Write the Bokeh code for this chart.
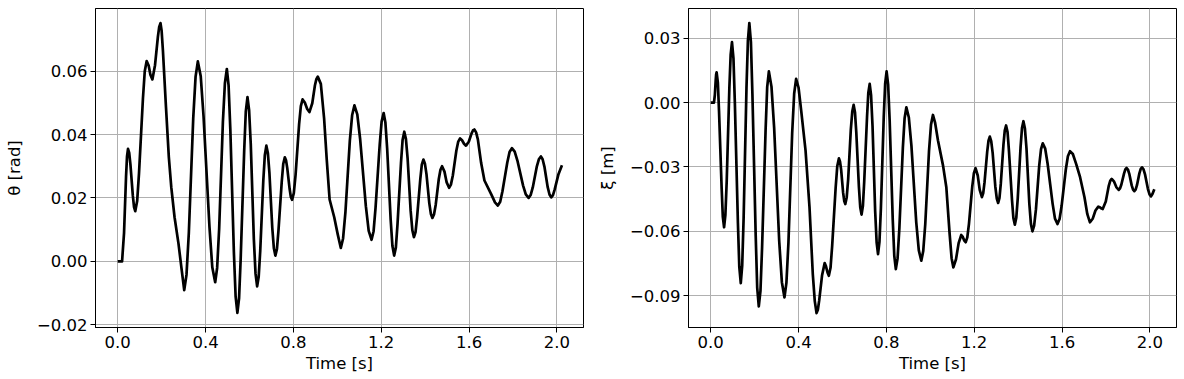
from bokeh.plotting import figure
from bokeh.layouts import row
from bokeh.models import FixedTicker, CustomJSTickFormatter, Range1d
from bokeh.embed import file_html
from bokeh.resources import INLINE

# ---- data (time [s], value) ----
theta_t = [0.0, 0.02, 0.029, 0.038, 0.047, 0.058, 0.069, 0.080, 0.097, 0.115,
           0.132, 0.141, 0.149, 0.158, 0.170, 0.183, 0.195, 0.206, 0.220, 0.233,
           0.244, 0.259, 0.277, 0.290, 0.303, 0.324, 0.344, 0.365, 0.391, 0.418,
           0.444, 0.462, 0.479, 0.497, 0.513, 0.529, 0.545, 0.560, 0.576, 0.591,
           0.606, 0.620, 0.635, 0.649, 0.663, 0.677, 0.691, 0.704, 0.718, 0.732,
           0.747, 0.761, 0.772, 0.783, 0.794, 0.810, 0.826, 0.842, 0.852, 0.863,
           0.873, 0.886, 0.898, 0.911, 0.925, 0.940, 0.952, 0.965, 0.986, 1.002,
           1.016, 1.037, 1.057, 1.078, 1.104, 1.130, 1.156, 1.174, 1.193, 1.211,
           1.227, 1.243, 1.259, 1.274, 1.290, 1.305, 1.320, 1.334, 1.349, 1.363,
           1.378, 1.392, 1.406, 1.419, 1.433, 1.448, 1.462, 1.477, 1.488, 1.498,
           1.509, 1.526, 1.542, 1.559, 1.568, 1.577, 1.586, 1.599, 1.611, 1.624,
           1.640, 1.655, 1.670, 1.700, 1.731, 1.752, 1.774, 1.795, 1.820, 1.846,
           1.871, 1.890, 1.908, 1.927, 1.943, 1.958, 1.974, 1.990, 2.007, 2.023]
theta_v = [0.0, 0.0, 0.009, 0.0266, 0.0355, 0.0306, 0.0207, 0.0158, 0.0277, 0.0514,
           0.0632, 0.0618, 0.0589, 0.0574, 0.0619, 0.0708, 0.0752, 0.0665, 0.0486, 0.0328,
           0.0234, 0.0139, 0.0055, -0.0019, -0.0091, 0.0090, 0.0451, 0.0631, 0.0457, 0.0108,
           -0.0066, 0.0102, 0.0439, 0.0607, 0.0415, 0.0030, -0.0163, 0.0007, 0.0348, 0.0518,
           0.0369, 0.0070, -0.0079, 0.0032, 0.0254, 0.0365, 0.0278, 0.0105, 0.0018, 0.0096,
           0.0251, 0.0328, 0.0295, 0.0228, 0.0194, 0.0273, 0.0432, 0.0511, 0.0501, 0.0481,
           0.0471, 0.0499, 0.0555, 0.0583, 0.0560, 0.045, 0.032, 0.0195, 0.0139, 0.0085,
           0.0042, 0.0155, 0.0380, 0.0492, 0.0386, 0.0174, 0.0068, 0.0168, 0.0368, 0.0468,
           0.0356, 0.0131, 0.0018, 0.0116, 0.0311, 0.0409, 0.0326, 0.0159, 0.0076, 0.0137,
           0.0260, 0.0321, 0.0275, 0.0183, 0.0137, 0.0178, 0.0259, 0.0300, 0.0283, 0.0249,
           0.0232, 0.0271, 0.0349, 0.0388, 0.0382, 0.0371, 0.0365, 0.0378, 0.0403, 0.0416,
           0.0385, 0.031, 0.0255, 0.0213, 0.0176, 0.0221, 0.0312, 0.0357, 0.0318, 0.0239,
           0.0200, 0.0233, 0.0298, 0.0331, 0.0299, 0.0234, 0.0202, 0.0227, 0.0275, 0.0303]
# extra points read near the rounded peaks and troughs
theta_t2 = [0.0425, 0.0525, 0.0745, 0.0887, 0.1233, 0.189, 0.200, 0.3133, 0.3547,
            0.3782, 0.4308, 0.4528, 0.4882, 0.505, 0.537, 0.5527, 0.5833, 0.5983,
            0.6277, 0.642, 0.670, 0.6838, 0.7112, 0.7252, 0.7538, 0.7665, 0.7885,
            0.802, 0.834, 0.9047, 1.0263, 1.0677, 1.091, 1.143, 1.1652, 1.2018,
            1.219, 1.251, 1.2667, 1.2973, 1.3123, 1.3417, 1.3562, 1.3848, 1.3988,
            1.4262, 1.4403, 1.4697, 1.5173, 1.5507, 1.6177, 1.632, 1.718, 1.7417,
            1.7843, 1.8077, 1.8583, 1.8803, 1.9177, 1.9348, 1.9662, 1.982]
theta_v2 = [0.0331, 0.0342, 0.0171, 0.0190, 0.0600, 0.0740, 0.0728, -0.0043, 0.0583,
            0.0584, -0.0019, -0.0021, 0.0562, 0.0555, -0.0111, -0.0117, 0.0472, 0.0478,
            -0.0039, -0.0049, 0.0335, 0.0342, 0.0041, 0.0039, 0.0307, 0.0319, 0.0203,
            0.0215, 0.0490, 0.0575, 0.0072, 0.0462, 0.0464, 0.0096, 0.0095, 0.0441,
            0.0438, 0.0048, 0.0044, 0.0383, 0.0387, 0.0098, 0.0092, 0.0305, 0.0309,
            0.0149, 0.0148, 0.0289, 0.0242, 0.0378, 0.0413, 0.0407, 0.0186, 0.0188,
            0.0345, 0.0346, 0.0211, 0.0209, 0.0322, 0.0322, 0.0211, 0.0209]

xi_t = [0.0, 0.015, 0.019, 0.023, 0.027, 0.038, 0.050, 0.061, 0.073, 0.085,
        0.097, 0.110, 0.124, 0.137, 0.150, 0.163, 0.176, 0.190, 0.205, 0.219,
        0.234, 0.250, 0.265, 0.289, 0.312, 0.336, 0.354, 0.371, 0.389, 0.400,
        0.412, 0.432, 0.450, 0.465, 0.482, 0.494, 0.507, 0.519, 0.525, 0.532,
        0.538, 0.553, 0.569, 0.584, 0.594, 0.603, 0.613, 0.626, 0.638, 0.651,
        0.663, 0.675, 0.687, 0.699, 0.712, 0.724, 0.737, 0.749, 0.762, 0.775,
        0.788, 0.801, 0.815, 0.829, 0.843, 0.859, 0.875, 0.891, 0.914, 0.936,
        0.959, 0.977, 0.994, 1.012, 1.035, 1.058, 1.073, 1.088, 1.105, 1.117,
        1.129, 1.141, 1.148, 1.154, 1.161, 1.176, 1.191, 1.206, 1.216, 1.225,
        1.235, 1.247, 1.259, 1.271, 1.284, 1.296, 1.309, 1.321, 1.333, 1.345,
        1.358, 1.372, 1.385, 1.398, 1.411, 1.424, 1.438, 1.451, 1.465, 1.481,
        1.496, 1.512, 1.534, 1.557, 1.579, 1.598, 1.617, 1.636, 1.664, 1.682,
        1.702, 1.727, 1.740, 1.752, 1.765, 1.772, 1.778, 1.785, 1.799, 1.812,
        1.826, 1.837, 1.847, 1.858, 1.870, 1.882, 1.894, 1.906, 1.917, 1.929,
        1.941, 1.952, 1.964, 1.978, 1.991, 2.005, 2.012, 2.020]
xi_v = [0.0, 0.0, 0.0035, 0.0106, 0.0141, -0.0040, -0.0401, -0.0581, -0.0366, 0.0066,
        0.0281, 0.0001, -0.0561, -0.0841, -0.0538, 0.0067, 0.0370, 0.0040, -0.0620, -0.0950,
        -0.0676, -0.0129, 0.0145, -0.0118, -0.0645, -0.0908, -0.0654, -0.0144, 0.0110, 0.007,
        -0.0037, -0.0224, -0.0488, -0.080, -0.0981, -0.0923, -0.0806, -0.0748, -0.0763, -0.0792,
        -0.0807, -0.0670, -0.0397, -0.0260, -0.0313, -0.0420, -0.0473, -0.0358, -0.0127, -0.0011,
        -0.0139, -0.0394, -0.0522, -0.0370, -0.0065, 0.0087, -0.0111, -0.0508, -0.0706, -0.0493,
        -0.0068, 0.0145, -0.0085, -0.0546, -0.0776, -0.0588, -0.0211, -0.0022, -0.0201, -0.0558,
        -0.0737, -0.0567, -0.0228, -0.0058, -0.0177, -0.0294, -0.0395, -0.0612, -0.0768, -0.0730,
        -0.0655, -0.0617, -0.0626, -0.0642, -0.0651, -0.0565, -0.0392, -0.0306, -0.0340, -0.0407,
        -0.0441, -0.0371, -0.0230, -0.0159, -0.0236, -0.0391, -0.0468, -0.0378, -0.0197, -0.0107,
        -0.0223, -0.0454, -0.0569, -0.0449, -0.0208, -0.0087, -0.0215, -0.0472, -0.0600, -0.0498,
        -0.0293, -0.0190, -0.0284, -0.0472, -0.0566, -0.0481, -0.0312, -0.0227, -0.0286, -0.0348,
        -0.0441, -0.0558, -0.0540, -0.0503, -0.0485, -0.0488, -0.0493, -0.0496, -0.0461, -0.0391,
        -0.0356, -0.0369, -0.0394, -0.0407, -0.0382, -0.0331, -0.0305, -0.0332, -0.0386, -0.0413,
        -0.0385, -0.0330, -0.0302, -0.0336, -0.0403, -0.0437, -0.0425, -0.0404]
# extra points read near the rounded peaks and troughs
xi_t2 = [0.025, 0.0327, 0.0553, 0.067, 0.091, 0.1037, 0.1303, 0.1435, 0.1695,
         0.1832, 0.2118, 0.2267, 0.2573, 0.2768, 0.3242, 0.3448, 0.3802, 0.474,
         0.488, 0.5457, 0.5763, 0.5888, 0.6082, 0.6193, 0.6447, 0.657, 0.681,
         0.6932, 0.7178, 0.7303, 0.7557, 0.7685, 0.7945, 0.808, 0.836, 0.851,
         0.883, 0.9023, 0.9477, 0.9678, 1.0032, 1.022, 1.097, 1.1685, 1.1985,
         1.241, 1.265, 1.2773, 1.3027, 1.315, 1.339, 1.3517, 1.3783, 1.3915,
         1.4175, 1.4308, 1.4582, 1.4728, 1.5042, 1.5232, 1.5678, 1.5885, 1.6265,
         1.649, 1.715, 1.8192, 1.864, 1.888, 1.8998, 1.9232, 1.9348, 1.9582,
         1.9708, 1.9982]
xi_v2 = [0.0132, 0.0093, -0.0533, -0.0523, 0.0223, 0.0206, -0.0766, -0.0760, 0.0289,
         0.0282, -0.0862, -0.0877, 0.0072, 0.0074, -0.0837, -0.0840, 0.0042, -0.0925,
         -0.0965, -0.0770, -0.0297, -0.0274, -0.0459, -0.0442, -0.0042, -0.0045, -0.0488,
         -0.0481, 0.0046, 0.0034, -0.0653, -0.0649, 0.0088, 0.0083, -0.0714, -0.0725,
         -0.0073, -0.0070, -0.0689, -0.0692, -0.0103, -0.0095, -0.0725, -0.0628, -0.0329,
         -0.0422, -0.0178, -0.0180, -0.0447, -0.0444, -0.0131, -0.0138, -0.0538, -0.0537,
         -0.0119, -0.0121, -0.0566, -0.0573, -0.0217, -0.0215, -0.0541, -0.0543, -0.0250,
         -0.0240, -0.0520, -0.0365, -0.0400, -0.0312, -0.0312, -0.0406, -0.0406, -0.0309,
         -0.0311, -0.0428]

x_ticks = [0.0, 0.4, 0.8, 1.2, 1.6, 2.0]
theta_ticks = [-0.02, 0.0, 0.02, 0.04, 0.06]
xi_ticks = [-0.09, -0.06, -0.03, 0.0, 0.03]
x_label = "Time [s]"
theta_label = "θ [rad]"
xi_label = "ξ [m]"

FONT = "DejaVu Sans"
FS = "16.5px"


def merged(t_a, v_a, t_b, v_b):
    pts = sorted(zip(list(t_a) + list(t_b), list(v_a) + list(v_b)))
    return [p[0] for p in pts], [p[1] for p in pts]


def style(p, yticks, ylabel, ydigits):
    p.xaxis.ticker = FixedTicker(ticks=x_ticks)
    p.yaxis.ticker = FixedTicker(ticks=yticks)
    p.xaxis.formatter = CustomJSTickFormatter(code="return tick.toFixed(1).replace('-', '\u2212');")
    p.yaxis.formatter = CustomJSTickFormatter(
        code="var s = tick.toFixed(%d); if (Math.abs(tick) < 1e-9) { s = (0).toFixed(%d); } return s.replace('-', '\u2212');" % (ydigits, ydigits))
    p.xaxis.axis_label = x_label
    p.yaxis.axis_label = ylabel
    for ax in (p.xaxis[0], p.yaxis[0]):
        ax.axis_label_text_font = FONT
        ax.axis_label_text_font_size = FS
        ax.axis_label_text_font_style = "normal"
        ax.axis_label_text_color = "black"
        ax.major_label_text_font = FONT
        ax.major_label_text_font_size = FS
        ax.major_label_text_color = "black"
        ax.major_tick_out = 5
        ax.major_tick_in = 0
        ax.minor_tick_out = 0
        ax.minor_tick_in = 0
        ax.major_tick_line_color = "black"
        ax.axis_line_color = "black"
        ax.major_label_standoff = 3
        ax.axis_label_standoff = 3
    p.yaxis[0].axis_label_standoff = 10
    p.grid.grid_line_color = "#b0b0b0"
    p.grid.grid_line_width = 1
    p.outline_line_color = "black"
    p.outline_line_width = 1
    p.background_fill_color = "white"
    p.border_fill_color = "white"


tt, tv = merged(theta_t, theta_v, theta_t2, theta_v2)
xt, xv = merged(xi_t, xi_v, xi_t2, xi_v2)

p1 = figure(width=594, height=376, output_backend="svg", toolbar_location=None,
            x_range=Range1d(-0.101, 2.121), y_range=Range1d(-0.0209, 0.0798),
            min_border_left=95, min_border_right=11, min_border_top=8, min_border_bottom=49)
p1.line(tt, tv, line_color="black", line_width=2.7, line_join="round")
style(p1, theta_ticks, theta_label, 2)

p2 = figure(width=586, height=376, output_backend="svg", toolbar_location=None,
            x_range=Range1d(-0.101, 2.121), y_range=Range1d(-0.1048, 0.0438),
            min_border_left=94, min_border_right=4, min_border_top=8, min_border_bottom=49)
p2.line(xt, xv, line_color="black", line_width=2.7, line_join="round")
style(p2, xi_ticks, xi_label, 2)

layout = row(p1, p2)
open("out.html", "w").write(file_html(layout, INLINE))
